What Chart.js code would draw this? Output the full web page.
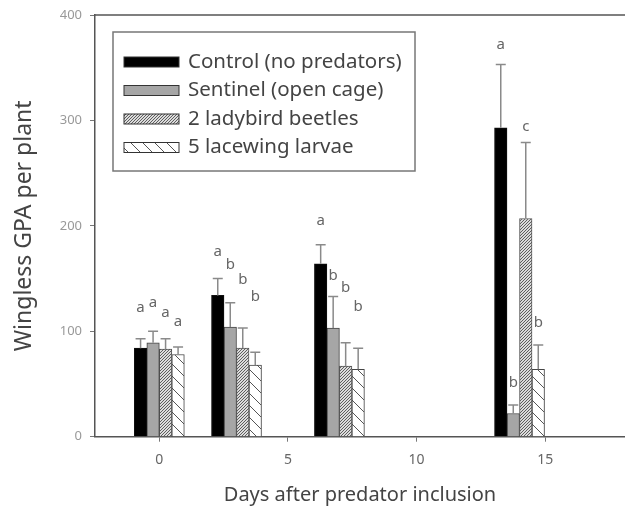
<!DOCTYPE html>
<html>
<head>
<meta charset="utf-8">
<script src="https://cdn.jsdelivr.net/npm/chart.js@4.4.1/dist/chart.umd.min.js"></script>
<style>
  html, body { margin: 0; padding: 0; background: #fff; overflow: hidden; }
  #wrap { width: 625px; height: 512px; }
</style>
</head>
<body>
<div id="wrap"><canvas id="chart"></canvas></div>
<script>
var days = [0, 3, 7, 14];

var seriesNames = ['Control (no predators)', 'Sentinel (open cage)', '2 ladybird beetles', '5 lacewing larvae'];

var controlMean = [84, 134, 164, 293];
var controlErr = [9, 16, 18, 60];
var controlLetters = ['a', 'a', 'a', 'a'];
var controlLetterY = [122, 175, 205, 372];

var sentinelMean = [89, 104, 103, 22];
var sentinelErr = [11, 23, 30, 8];
var sentinelLetters = ['a', 'b', 'b', 'b'];
var sentinelLetterY = [127, 163, 153, 51];

var ladybirdMean = [83, 84, 67, 207];
var ladybirdErr = [10, 19, 22, 72];
var ladybirdLetters = ['a', 'b', 'b', 'c'];
var ladybirdLetterY = [118, 149, 141, 294];

var lacewingMean = [78, 68, 64, 64];
var lacewingErr = [7, 12, 20, 23];
var lacewingLetters = ['a', 'b', 'b', 'b'];
var lacewingLetterY = [109, 133, 123, 108];

var yTicks = [0, 100, 200, 300, 400];
var xTicks = [0, 5, 10, 15];

Chart.defaults.font.family = "'Noto Sans', sans-serif";

// fill patterns for the two hatched series
function makePattern(kind) {
  var c = document.createElement('canvas');
  var g = c.getContext('2d');
  if (kind === 'dense') {
    c.width = 3; c.height = 3;
    g.fillStyle = '#dcdcdc';
    g.fillRect(0, 0, 3, 3);
    g.strokeStyle = '#5e5e5e';
    g.lineWidth = 1;
    g.beginPath();
    g.moveTo(-1, 4); g.lineTo(4, -1);
    g.stroke();
  } else {
    c.width = 12; c.height = 12;
    g.fillStyle = '#fff';
    g.fillRect(0, 0, 12, 12);
    g.strokeStyle = '#555';
    g.lineWidth = 1;
    g.beginPath();
    g.moveTo(-1, -1); g.lineTo(13, 13);
    g.stroke();
  }
  return g.createPattern(c, 'repeat');
}

var densePattern = makePattern('dense');
var hatchPattern = makePattern('hatch');

function pts(vals) {
  return days.map(function (d, i) { return { x: d, y: vals[i] }; });
}

var errs = [controlErr, sentinelErr, ladybirdErr, lacewingErr];
var means = [controlMean, sentinelMean, ladybirdMean, lacewingMean];
var letters = [controlLetters, sentinelLetters, ladybirdLetters, lacewingLetters];
var letterY = [controlLetterY, sentinelLetterY, ladybirdLetterY, lacewingLetterY];

var errorBars = {
  id: 'errorBars',
  afterDatasetsDraw: function (chart) {
    var ctx = chart.ctx;
    var y = chart.scales.y;
    ctx.save();
    for (var i = 0; i < means.length; i++) {
      var meta = chart.getDatasetMeta(i);
      meta.data.forEach(function (bar, j) {
        var top = y.getPixelForValue(means[i][j] + errs[i][j]);
        ctx.strokeStyle = '#8a8a8a';
        ctx.lineWidth = 1.5;
        ctx.beginPath();
        ctx.moveTo(bar.x, bar.y);
        ctx.lineTo(bar.x, top);
        ctx.moveTo(bar.x - 5, top);
        ctx.lineTo(bar.x + 5, top);
        ctx.stroke();
        ctx.fillStyle = '#666';
        ctx.font = "15px 'Noto Sans', sans-serif";
        ctx.textAlign = 'center';
        ctx.textBaseline = 'middle';
        ctx.fillText(letters[i][j], bar.x, y.getPixelForValue(letterY[i][j]));
      });
    }
    ctx.restore();
  }
};

var frameAndLegend = {
  id: 'frameAndLegend',
  afterDraw: function (chart) {
    var ctx = chart.ctx;
    var a = chart.chartArea;
    ctx.save();
    // top frame line
    ctx.strokeStyle = '#555';
    ctx.lineWidth = 1.5;
    ctx.beginPath();
    ctx.moveTo(a.left, a.top);
    ctx.lineTo(a.right, a.top);
    ctx.stroke();

    // legend box
    var lx = a.left + 18, ly = a.top + 17, lw = 302, lh = 139;
    ctx.strokeStyle = '#777';
    ctx.lineWidth = 1.5;
    ctx.strokeRect(lx, ly, lw, lh);
    ctx.font = "20.5px 'Noto Sans', sans-serif";
    ctx.textBaseline = 'middle';
    ctx.textAlign = 'left';
    chart.data.datasets.forEach(function (ds, i) {
      var cy = ly + 30 + i * 28.5;
      ctx.fillStyle = ds.backgroundColor;
      ctx.fillRect(lx + 11, cy - 5, 55, 10);
      ctx.strokeStyle = '#333';
      ctx.lineWidth = 1;
      ctx.strokeRect(lx + 11, cy - 5, 55, 10);
      ctx.fillStyle = '#444';
      ctx.fillText(ds.label, lx + 75, cy);
    });
    ctx.restore();
  }
};

new Chart(document.getElementById('chart'), {
  type: 'bar',
  data: {
    datasets: [
      { label: seriesNames[0], data: pts(controlMean), backgroundColor: '#000', borderColor: '#111', borderWidth: 1 },
      { label: seriesNames[1], data: pts(sentinelMean), backgroundColor: '#a6a6a6', borderColor: '#444', borderWidth: 1 },
      { label: seriesNames[2], data: pts(ladybirdMean), backgroundColor: densePattern, borderColor: '#555', borderWidth: 1 },
      { label: seriesNames[3], data: pts(lacewingMean), backgroundColor: hatchPattern, borderColor: '#444', borderWidth: 1 }
    ]
  },
  options: {
    responsive: true,
    maintainAspectRatio: false,
    animation: false,
    devicePixelRatio: 1,
    layout: { padding: { top: 15, right: 0, bottom: 0, left: 0 } },
    datasets: { bar: { barThickness: 12.5, borderSkipped: 'start' } },
    plugins: { legend: { display: false }, tooltip: { enabled: false } },
    scales: {
      x: {
        type: 'linear',
        offset: false,
        min: -2.5,
        max: 18.1,
        afterBuildTicks: function (s) { s.ticks = xTicks.map(function (v) { return { value: v }; }); },
        afterFit: function (s) { s.height = 75.3; s.paddingLeft = 0; s.paddingRight = 0; },
        grid: { offset: false, drawOnChartArea: false, drawTicks: true, tickLength: 5, tickColor: '#777' },
        border: { color: '#555', width: 1.5 },
        ticks: { color: '#666', font: { size: 14 }, padding: 10, maxRotation: 0 },
        title: { display: true, text: 'Days after predator inclusion', color: '#444', font: { size: 20 }, padding: { top: 0, bottom: 5 } }
      },
      y: {
        min: 0,
        max: 400,
        afterBuildTicks: function (s) { s.ticks = yTicks.map(function (v) { return { value: v }; }); },
        afterFit: function (s) { s.width = 95; s.paddingTop = 0; s.paddingBottom = 0; },
        grid: { drawOnChartArea: false, drawTicks: true, tickLength: 5, tickColor: '#777' },
        border: { color: '#555', width: 1.5 },
        ticks: { color: '#999', font: { size: 13 }, padding: 8 },
        title: { display: true, text: 'Wingless GPA per plant', color: '#444', font: { size: 23 }, padding: { top: 11, bottom: 0 } }
      }
    }
  },
  plugins: [errorBars, frameAndLegend]
});
</script>
</body>
</html>
